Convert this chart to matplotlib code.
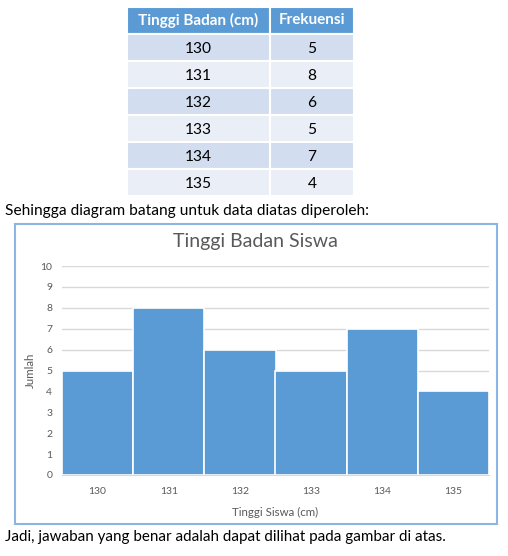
import matplotlib
matplotlib.use("Agg")
import matplotlib.pyplot as plt
from matplotlib.patches import Rectangle

plt.rcParams['font.family'] = ['Lato', 'DejaVu Sans']

# ---- data ----
heights = ["130", "131", "132", "133", "134", "135"]
freqs = [5, 8, 6, 5, 7, 4]
table_headers = ["Tinggi Badan (cm)", "Frekuensi"]
chart_title = "Tinggi Badan Siswa"
x_label = "Tinggi Siswa (cm)"
y_label = "Jumlah"
y_ticks = list(range(0, 11))
text_above = "Sehingga diagram batang untuk data diatas diperoleh:"
text_below = "Jadi, jawaban yang benar adalah dapat dilihat pada gambar di atas."

W, H = 508, 556
fig = plt.figure(figsize=(W / 100, H / 100), dpi=100)
fig.patch.set_facecolor('white')

def fx(px):
    return px / W

def fy(py):
    return 1 - py / H

BLUE = '#5B9BD5'
ROW_A = '#D2DEEF'
ROW_B = '#EAEFF7'
GRAY_TXT = '#595959'

# ---- table ----
t_left, t_right, t_top, t_bot = 127, 354, 7, 196
tax = fig.add_axes([fx(t_left), fy(t_bot), fx(t_right - t_left), (t_bot - t_top) / H])
col_w = [143, 84]
nrows = len(heights) + 1
tax.set_xlim(0, sum(col_w))
tax.set_ylim(nrows, 0)
tax.axis('off')
for r in range(nrows):
    x0 = 0
    for c in range(2):
        if r == 0:
            fc = BLUE
        else:
            fc = ROW_A if r % 2 == 1 else ROW_B
        tax.add_patch(Rectangle((x0, r), col_w[c], 1, facecolor=fc,
                                edgecolor='white', linewidth=1.5))
        if r == 0:
            txt = table_headers[c]
            tax.text(x0 + col_w[c] / 2, r + 0.5, txt, ha='center', va='center',
                     fontsize=11, color='white', fontweight='bold')
        else:
            txt = heights[r - 1] if c == 0 else str(freqs[r - 1])
            tax.text(x0 + col_w[c] / 2, r + 0.55, txt, ha='center', va='center',
                     fontsize=11.2, color='black')
        x0 += col_w[c]

# ---- text lines ----
fig.text(fx(5), fy(211), text_above, ha='left', va='center', fontsize=11.2, color='black')
fig.text(fx(5), fy(537), text_below, ha='left', va='center', fontsize=10.9, color='black')

# ---- chart box ----
fig.patches.append(Rectangle((fx(15), fy(524)), fx(497 - 15), (524 - 224) / H,
                             transform=fig.transFigure, facecolor='none',
                             edgecolor='#8DB4E2', linewidth=1.5, zorder=5))

# ---- bar chart ----
p_left, p_right, p_top, p_bot = 62, 489, 266, 475
ax = fig.add_axes([fx(p_left), fy(p_bot), fx(p_right - p_left), (p_bot - p_top) / H])
ax.set_facecolor('none')
xs = list(range(len(heights)))
ax.bar(xs, freqs, width=1.0, color=BLUE, edgecolor='white', linewidth=1.2, zorder=3)
ax.set_xlim(-0.5, len(heights) - 0.5)
ax.set_ylim(0, 10)
ax.set_yticks(y_ticks)
ax.set_yticklabels([str(v) for v in y_ticks])
ax.set_xticks(xs)
ax.set_xticklabels(heights)
ax.tick_params(axis='both', length=0, labelsize=7.5, colors=GRAY_TXT)
ax.tick_params(axis='x', pad=9)
ax.tick_params(axis='y', pad=7)
ax.grid(axis='y', color='#D9D9D9', linewidth=1, zorder=0)
for s in ['top', 'right', 'left']:
    ax.spines[s].set_visible(False)
ax.spines['bottom'].set_color('#D9D9D9')
ax.spines['bottom'].set_zorder(4)

fig.text(fx(255), fy(242), chart_title, ha='center', va='center', fontsize=14, color=GRAY_TXT)
fig.text(fx(275), fy(512), x_label, ha='center', va='center', fontsize=8.3, color=GRAY_TXT)
fig.text(fx(30), fy(370), y_label, ha='center', va='center', fontsize=8.3, color=GRAY_TXT, rotation=90)

fig.savefig('out.png', dpi=100)
